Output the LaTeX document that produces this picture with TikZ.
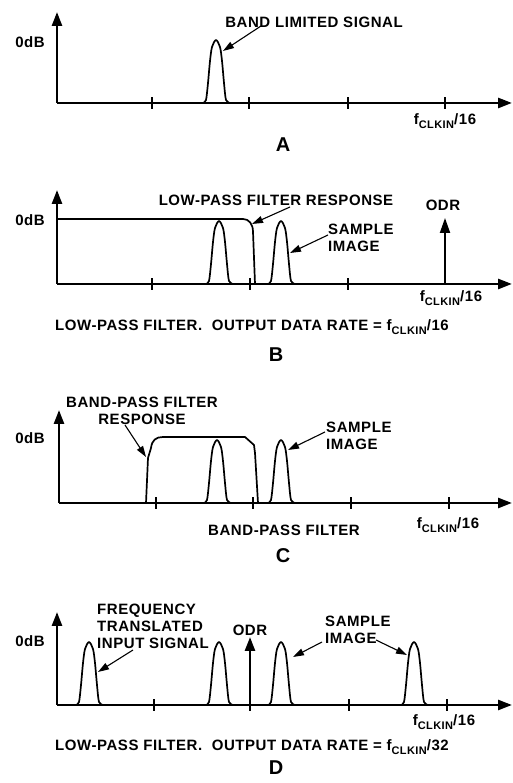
\documentclass[tikz,border=0pt]{standalone}
\usepackage{fontspec}
\setmainfont{Liberation Sans}[LetterSpace=3.8]
\usetikzlibrary{arrows.meta,positioning}
\tikzset{
  axisLine/.style={line width=2.7pt, -{Triangle[length=14pt,width=10pt]}},
  odrArrow/.style={line width=1.9pt, -{Triangle[length=15pt,width=10pt]}},
  tickMark/.style={line width=1.8pt},
  sigLine/.style={line width=1.7pt, line join=round},
  noteArrow/.style={line width=1.1pt, -{Triangle[length=11pt,width=7pt]}},
  noteLabel/.style={font=\fontsize{15}{17}\selectfont\bfseries, inner sep=0pt, align=center},
  panelName/.style={font=\fontsize{20}{22}\selectfont\bfseries, inner sep=0pt},
  pics/bump/.style={code={
    \draw[sigLine] plot[smooth,tension=0.5] coordinates {(-13,0) (-10,3) (-8,20) (-6,42) (-4,56) (0,63) (4,56) (6,42) (8,20) (10,3) (14,0)};
  }}
}
\newcommand{\fclk}[1]{f\raisebox{-4pt}{\fontsize{11}{12}\selectfont CLKIN}/#1}

\begin{document}
\begin{tikzpicture}[x=1pt,y=1pt]
  \useasboundingbox (0,0) rectangle (512,783);
  % A
  \begin{scope}[shift={(57,680)}]
    \draw[axisLine] (0,0) -- (0,91);
    \draw[axisLine] (0,0) -- (455,0);
    \foreach \t in {95,192,291,388} \draw[tickMark] (\t,-6) -- (\t,6);
    \node[noteLabel] (aZero) at (-27,61) {0dB};
    \pic at (159,0) {bump};
    \node[noteLabel] (aBand) at (257,81) {BAND LIMITED SIGNAL};
    \coordinate (aTail) at (204,77);
    \coordinate (aTip) at (166,52);
    \draw[noteArrow] (aTail) -- (aTip);
    \node[noteLabel] (aFreq) at (388,-18) {\fclk{16}};
    \node[panelName] (aName) at (226,-42) {A};
  \end{scope}
  % B
  \begin{scope}[shift={(57,499)}]
    \draw[axisLine] (0,0) -- (0,94);
    \draw[axisLine] (0,0) -- (455,0);
    \foreach \t in {95,193,291} \draw[tickMark] (\t,-6) -- (\t,6);
    \draw[odrArrow] (388,0) -- (388,66);
    \node[noteLabel] (bOdr) at (386,79) {ODR};
    \node[noteLabel] (bZero) at (-27,64) {0dB};
    \draw[sigLine] (0,65) -- (186,65) .. controls (192,65) and (196,60) .. (196,52) -- (198,0);
    \pic at (162,0) {bump};
    \pic at (224,0) {bump};
    \node[noteLabel] (bLpf) at (219,84) {LOW-PASS FILTER RESPONSE};
    \coordinate (bLpfTail) at (233,77);
    \coordinate (bLpfTip) at (195,60);
    \draw[noteArrow] (bLpfTail) -- (bLpfTip);
    \node[noteLabel, align=left, anchor=west] (bImg) at (271,46) {SAMPLE\\IMAGE};
    \coordinate (bImgTail) at (271,49);
    \coordinate (bImgTip) at (233,31);
    \draw[noteArrow] (bImgTail) -- (bImgTip);
    \node[noteLabel] (bFreq) at (394,-14) {\fclk{16}};
    \node[noteLabel] (bCap) at (195,-43) {LOW-PASS FILTER.\ \ OUTPUT DATA RATE = \fclk{16}};
    \node[panelName] (bName) at (219,-71) {B};
  \end{scope}
  % C
  \begin{scope}[shift={(59,280)}]
    \draw[axisLine] (0,0) -- (0,93);
    \draw[axisLine] (0,0) -- (453,0);
    \foreach \t in {97,194,292,390} \draw[tickMark] (\t,-6) -- (\t,6);
    \node[noteLabel] (cZero) at (-29,65) {0dB};
    \draw[sigLine] (87,0) -- (89,45) -- (92,55) .. controls (93,63) and (97,66) .. (104,66) -- (186,66) -- (195,58) -- (196,50) -- (199,0);
    \pic at (158,0) {bump};
    \pic at (222,0) {bump};
    \node[noteLabel] (cBpf) at (83,92) {BAND-PASS FILTER\\RESPONSE};
    \coordinate (cBpfTail) at (66,78);
    \coordinate (cBpfTip) at (87,46);
    \draw[noteArrow] (cBpfTail) -- (cBpfTip);
    \node[noteLabel, align=left, anchor=west] (cImg) at (267,67) {SAMPLE\\IMAGE};
    \coordinate (cImgTail) at (266,71);
    \coordinate (cImgTip) at (229,53);
    \draw[noteArrow] (cImgTail) -- (cImgTip);
    \node[noteLabel] (cFilt) at (225,-27) {BAND-PASS FILTER};
    \node[noteLabel] (cFreq) at (389,-22) {\fclk{16}};
    \node[panelName] (cName) at (224,-53) {C};
  \end{scope}
  % D
  \begin{scope}[shift={(57,78)}]
    \draw[axisLine] (0,0) -- (0,93);
    \draw[axisLine] (0,0) -- (455,0);
    \foreach \t in {97,193,292,390} \draw[tickMark] (\t,-6) -- (\t,6);
    \draw[axisLine] (193,0) -- (193,68);
    \node[noteLabel] (dOdr) at (193,75) {ODR};
    \node[noteLabel] (dZero) at (-27,64) {0dB};
    \foreach \p in {32,162,224,357} \pic at (\p,0) {bump};
    \node[noteLabel, align=left, anchor=west] (dFreqSig) at (40,79) {FREQUENCY\\TRANSLATED\\INPUT SIGNAL};
    \coordinate (dSigTail) at (76,55);
    \coordinate (dSigTip) at (41,33);
    \draw[noteArrow] (dSigTail) -- (dSigTip);
    \node[noteLabel, align=left, anchor=west] (dImg) at (268,75) {SAMPLE\\IMAGE};
    \coordinate (dImgTailA) at (265,63);
    \coordinate (dImgTipA) at (236,48);
    \coordinate (dImgTailB) at (319,65);
    \coordinate (dImgTipB) at (350,50);
    \draw[noteArrow] (dImgTailA) -- (dImgTipA);
    \draw[noteArrow] (dImgTailB) -- (dImgTipB);
    \node[noteLabel] (dFreq) at (387,-17) {\fclk{16}};
    \node[noteLabel] (dCap) at (195,-42) {LOW-PASS FILTER.\ \ OUTPUT DATA RATE = \fclk{32}};
    \node[panelName] (dName) at (219,-63) {D};
  \end{scope}
\end{tikzpicture}
\end{document}
